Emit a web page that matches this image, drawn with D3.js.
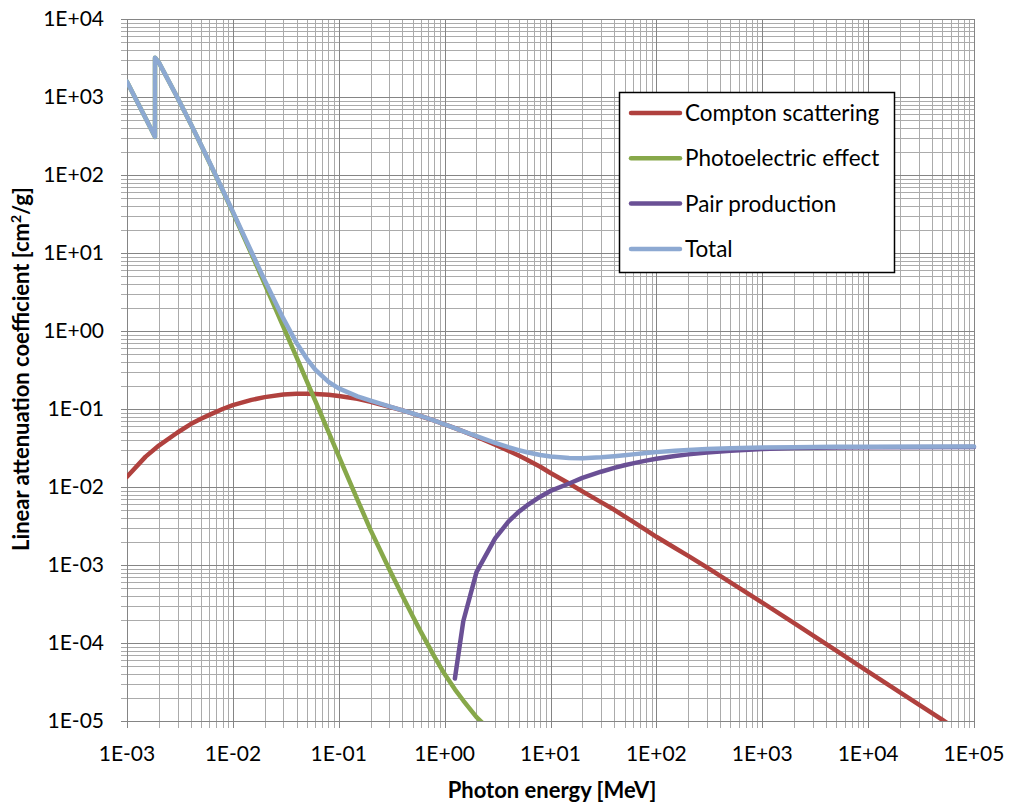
<!DOCTYPE html>
<html>
<head>
<meta charset="utf-8">
<script src="https://cdn.jsdelivr.net/npm/d3@7"></script>
<style>
  body { margin: 0; background: #fff; }
  text { font-family: Lato, "Open Sans", sans-serif; fill: #000; }
</style>
</head>
<body>
<svg id="chart" width="1010" height="805"></svg>
<script>
// photon energy grid [MeV] and coefficients [cm2/g]
var comptonE = [0.001, 0.0015, 0.002, 0.003, 0.004, 0.005, 0.006, 0.008, 0.01, 0.015, 0.02, 0.03, 0.04, 0.05, 0.06, 0.08,
    0.1, 0.15, 0.2, 0.3, 0.4, 0.5, 0.6, 0.8, 1, 1.25, 1.5, 2, 3, 4, 5, 6, 8, 10, 15, 20, 30, 40, 50, 60, 80,
    100, 150, 200, 300, 500, 1000, 2000, 5000, 10000, 20000, 50000, 100000];
var compton = [0.0135, 0.0245, 0.034, 0.050, 0.064, 0.075, 0.084, 0.100, 0.112, 0.131, 0.142, 0.153, 0.157, 0.157, 0.156, 0.152,
    0.147, 0.135, 0.124, 0.107, 0.096, 0.0874, 0.0807, 0.0708, 0.0636, 0.0568, 0.0516, 0.0441, 0.0348, 0.0292, 0.0253, 0.0224, 0.0182, 0.0151, 0.0111, 0.0088, 0.0064, 0.0051, 0.0042, 0.0036, 0.0028,
    0.0023, 0.00165, 0.00131, 0.00093, 0.00060, 0.00033, 0.000180, 0.000080, 0.000043, 0.0000232, 0.0000104, 0.0000055];

var photoE = [0.001, 0.0015, 0.001839, 0.001839, 0.002, 0.003, 0.004, 0.005, 0.006, 0.008, 0.01, 0.015, 0.02, 0.03, 0.04, 0.05, 0.06, 0.08,
    0.1, 0.15, 0.2, 0.3, 0.4, 0.5, 0.6, 0.8, 1, 1.25, 1.5, 2, 3];
var photo = [1567, 533, 307, 3190, 2774, 976, 451, 243, 145, 63.5, 32.9, 9.7, 4.0, 1.13, 0.46, 0.226, 0.127, 0.051,
    0.0248, 0.0069, 0.0028, 0.00088, 0.00040, 0.000220, 0.000137, 0.000067, 0.000040, 0.0000255, 0.0000183, 0.0000112, 0.0000066];

var pairE = [1.25, 1.5, 2, 3, 4, 5, 6, 8, 10, 15, 20, 30, 40, 50, 60, 80, 100, 150, 200, 300, 500, 1000, 2000, 5000, 10000, 100000];
var pair = [0.000035, 0.00019, 0.00081, 0.0022, 0.0036, 0.0048, 0.0058, 0.0075, 0.0089, 0.0111, 0.0131, 0.0157, 0.0176, 0.0190, 0.0201, 0.0218, 0.0230, 0.0250, 0.0262, 0.0277, 0.0291, 0.0308, 0.0316, 0.0321, 0.0323, 0.0325];

var totalE = [0.001, 0.0015, 0.001839, 0.001839, 0.002, 0.003, 0.004, 0.005, 0.006, 0.008, 0.01, 0.015, 0.02, 0.03, 0.04, 0.05, 0.06, 0.08,
    0.1, 0.15, 0.2, 0.3, 0.4, 0.5, 0.6, 0.8, 1, 1.25, 1.5, 2, 3, 4, 5, 6, 8, 10, 15, 20, 30, 40, 50, 60, 80,
    100, 150, 200, 300, 500, 1000, 2000, 5000, 10000, 100000];
var total = [1570, 535, 309, 3192, 2777, 978, 453, 245, 147, 64.7, 33.9, 10.3, 4.46, 1.44, 0.70, 0.44, 0.32, 0.223,
    0.184, 0.145, 0.128, 0.108, 0.096, 0.0875, 0.0808, 0.0708, 0.0636, 0.0569, 0.0518, 0.0448, 0.0368, 0.0324, 0.0297, 0.0279, 0.0257, 0.0246, 0.0235, 0.0234, 0.0240, 0.0248, 0.0256, 0.0262, 0.0272,
    0.0280, 0.0291, 0.0298, 0.0306, 0.0314, 0.0320, 0.0324, 0.0327, 0.0328, 0.0330];

var seriesNames = ["Compton scattering", "Photoelectric effect", "Pair production", "Total"];
var seriesColors = ["#B0413E", "#87A84A", "#6A5095", "#8DA9D2"];
var xTickLabels = ["1E-03", "1E-02", "1E-01", "1E+00", "1E+01", "1E+02", "1E+03", "1E+04", "1E+05"];
var yTickLabels = ["1E-05", "1E-04", "1E-03", "1E-02", "1E-01", "1E+00", "1E+01", "1E+02", "1E+03", "1E+04"];

var svg = d3.select("#chart");
var pLeft = 127, pRight = 974, pTop = 19, pBottom = 721;

var x = d3.scaleLog().domain([1e-3, 1e5]).range([pLeft, pRight]);
var y = d3.scaleLog().domain([1e-5, 1e4]).range([pBottom, pTop]);

// grid values: minor 2..9 of each decade, major at powers of ten
var xMinor = [], yMinor = [];
d3.range(-3, 5).forEach(function (p) {
    for (var m = 2; m < 10; m++) xMinor.push(m * Math.pow(10, p));
});
d3.range(-5, 4).forEach(function (p) {
    for (var m = 2; m < 10; m++) yMinor.push(m * Math.pow(10, p));
});
var xMajor = xTickLabels.map(function (d) { return +d; });
var yMajor = yTickLabels.map(function (d) { return +d; });

var grid = svg.append("g").attr("shape-rendering", "crispEdges");
grid.selectAll(".xminor").data(xMinor).enter().append("line")
    .attr("x1", function (d) { return Math.round(x(d)) + 0.5; })
    .attr("x2", function (d) { return Math.round(x(d)) + 0.5; })
    .attr("y1", pTop).attr("y2", pBottom + 7)
    .attr("stroke", "#ababab").attr("stroke-width", 1);
grid.selectAll(".yminor").data(yMinor).enter().append("line")
    .attr("y1", function (d) { return Math.round(y(d)) + 0.5; })
    .attr("y2", function (d) { return Math.round(y(d)) + 0.5; })
    .attr("x1", pLeft - 6).attr("x2", pRight)
    .attr("stroke", "#ababab").attr("stroke-width", 1);
grid.selectAll(".xmajor").data(xMajor).enter().append("line")
    .attr("x1", function (d) { return Math.round(x(d)) + 0.5; })
    .attr("x2", function (d) { return Math.round(x(d)) + 0.5; })
    .attr("y1", pTop).attr("y2", pBottom + 7)
    .attr("stroke", "#858585").attr("stroke-width", 1.3);
grid.selectAll(".ymajor").data(yMajor).enter().append("line")
    .attr("y1", function (d) { return Math.round(y(d)) + 0.5; })
    .attr("y2", function (d) { return Math.round(y(d)) + 0.5; })
    .attr("x1", pLeft - 6).attr("x2", pRight)
    .attr("stroke", "#858585").attr("stroke-width", 1.3);

// tick labels
svg.append("g").selectAll("text").data(xTickLabels).enter().append("text")
    .attr("x", function (d) { return x(+d); })
    .attr("y", 761)
    .attr("text-anchor", "middle")
    .style("font-size", "21px")
    .text(function (d) { return d; });
svg.append("g").selectAll("text").data(yTickLabels).enter().append("text")
    .attr("x", 104)
    .attr("y", function (d) { return y(+d) + 7; })
    .attr("text-anchor", "end")
    .style("font-size", "21px")
    .text(function (d) { return d; });

// axis titles
svg.append("text")
    .attr("x", 552).attr("y", 798)
    .attr("text-anchor", "middle")
    .style("font-size", "22px").style("font-weight", "bold")
    .text("Photon energy [MeV]");
var yt = svg.append("text")
    .attr("transform", "translate(29,369) rotate(-90)")
    .attr("text-anchor", "middle")
    .style("font-size", "22px").style("font-weight", "bold");
yt.append("tspan").text("Linear attenuation coefficient [cm");
yt.append("tspan").attr("dy", -8).style("font-size", "14px").text("2");
yt.append("tspan").attr("dy", 8).text("/g]");

// curves
svg.append("clipPath").attr("id", "plotclip")
    .append("rect").attr("x", pLeft).attr("y", pTop - 5).attr("width", pRight - pLeft + 5).attr("height", pBottom - pTop + 5);

var line = d3.line()
    .x(function (d) { return x(d[0]); })
    .y(function (d) { return y(d[1]); });

var series = [
    d3.zip(comptonE, compton),
    d3.zip(photoE, photo),
    d3.zip(pairE, pair),
    d3.zip(totalE, total)
];

svg.append("g").attr("clip-path", "url(#plotclip)")
    .selectAll("path").data(series).enter().append("path")
    .attr("d", line)
    .attr("fill", "none")
    .attr("stroke", function (d, i) { return seriesColors[i]; })
    .attr("stroke-width", 4.5)
    .attr("stroke-linejoin", "round")
    .attr("stroke-linecap", "round");

// legend
var lg = svg.append("g");
lg.append("rect")
    .attr("x", 619.5).attr("y", 92.5).attr("width", 275).attr("height", 180)
    .attr("fill", "#fff").attr("stroke", "#000").attr("stroke-width", 1.5);
var rows = lg.selectAll("g.row").data(seriesNames).enter().append("g")
    .attr("transform", function (d, i) { return "translate(0," + (113 + i * 45.3) + ")"; });
rows.append("line")
    .attr("x1", 631).attr("x2", 680).attr("y1", 0).attr("y2", 0)
    .attr("stroke", function (d, i) { return seriesColors[i]; })
    .attr("stroke-width", 4.5).attr("stroke-linecap", "round");
rows.append("text")
    .attr("x", 685).attr("y", 8)
    .style("font-size", "22.5px")
    .text(function (d) { return d; });
</script>
</body>
</html>
